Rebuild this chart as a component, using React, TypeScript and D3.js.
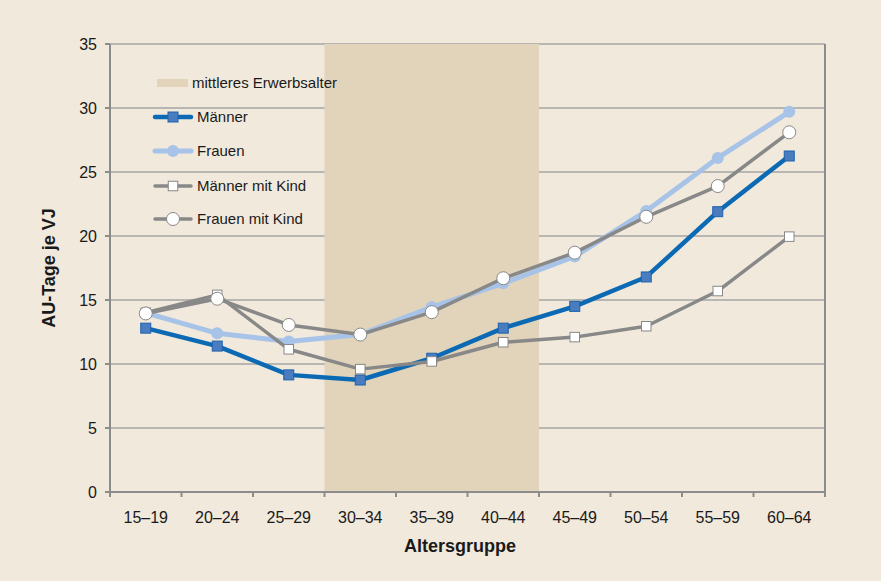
import React from "react";
import * as d3 from "d3";

const categories = ["15–19", "20–24", "25–29", "30–34", "35–39", "40–44", "45–49", "50–54", "55–59", "60–64"];
const maenner = [12.8, 11.4, 9.15, 8.75, 10.45, 12.8, 14.5, 16.8, 21.9, 26.25];
const frauen = [14.0, 12.4, 11.75, 12.3, 14.45, 16.3, 18.4, 21.95, 26.1, 29.7];
const maennerKind = [14.0, 15.4, 11.15, 9.6, 10.2, 11.7, 12.1, 12.95, 15.7, 19.95];
const frauenKind = [13.95, 15.1, 13.05, 12.3, 14.05, 16.7, 18.7, 21.5, 23.9, 28.1];
const yTicks = [0, 5, 10, 15, 20, 25, 30, 35];
const shadedStart = "30–34";
const shadedEnd = "40–44";

const W = 881;
const H = 581;
const M = { left: 110, right: 825, top: 44, bottom: 492 };
const FONT = "'Liberation Sans', Arial, sans-serif";
const BG = "#F1E9DC";
const BAND = "#E2D4BA";
const GRID = "#A4A4A4";
const AXIS = "#8C8C8C";
const BLUE = "#0B6AB3";
const BLUE_FILL = "#4A7DBF";
const LIGHT = "#A7C3E7";
const GRAY = "#888888";

type Series = { name: string; values: number[]; color: string; width: number; marker: "sq" | "dot" | "wsq" | "wcirc" };

const series: Series[] = [
  { name: "Männer", values: maenner, color: BLUE, width: 4.5, marker: "sq" },
  { name: "Frauen", values: frauen, color: LIGHT, width: 5, marker: "dot" },
  { name: "Männer mit Kind", values: maennerKind, color: GRAY, width: 3.5, marker: "wsq" },
  { name: "Frauen mit Kind", values: frauenKind, color: GRAY, width: 3.5, marker: "wcirc" },
];

function Marker({ kind, x, y }: { kind: Series["marker"]; x: number; y: number }) {
  if (kind === "sq") return <rect x={x - 5} y={y - 5} width={10} height={10} fill={BLUE_FILL} stroke="#1E62AC" strokeWidth={1} />;
  if (kind === "dot") return <circle cx={x} cy={y} r={6} fill={LIGHT} />;
  if (kind === "wsq") return <rect x={x - 4.75} y={y - 4.75} width={9.5} height={9.5} fill="#FFFFFF" stroke={GRAY} strokeWidth={1} />;
  return <circle cx={x} cy={y} r={6.5} fill="#FFFFFF" stroke={GRAY} strokeWidth={1} />;
}

export default function App() {
  const x = d3.scaleBand<string>().domain(categories).range([M.left, M.right]);
  const y = d3.scaleLinear().domain([0, 35]).range([M.bottom, M.top]);
  const cx = (c: string) => (x(c) as number) + x.bandwidth() / 2;
  const line = d3
    .line<number>()
    .x((_, i) => cx(categories[i]))
    .y((v) => y(v));

  const bandX0 = x(shadedStart) as number;
  const bandX1 = (x(shadedEnd) as number) + x.bandwidth();

  const legendX = 155;
  const legendRows = [117, 151, 186, 219];

  return (
    <svg width={W} height={H} style={{ position: "absolute", left: 0, top: 0, fontFamily: FONT }}>
      <rect x={0} y={0} width={W} height={H} fill={BG} />
      {yTicks.map((t) => (
        <line key={t} x1={M.left} x2={M.right} y1={y(t)} y2={y(t)} stroke={GRID} strokeWidth={1.5} />
      ))}
      <rect x={bandX0} y={M.top} width={bandX1 - bandX0} height={M.bottom - M.top} fill={BAND} />
      <line x1={M.left} x2={M.left} y1={M.top} y2={M.bottom} stroke={AXIS} strokeWidth={2} />
      <line x1={M.right} x2={M.right} y1={M.top} y2={M.bottom} stroke={AXIS} strokeWidth={2} />
      <line x1={M.left} x2={M.right} y1={M.bottom} y2={M.bottom} stroke={AXIS} strokeWidth={2} />
      {yTicks.map((t) => (
        <g key={"yt" + t}>
          <line x1={M.left - 5} x2={M.left} y1={y(t)} y2={y(t)} stroke={AXIS} strokeWidth={2} />
          <text x={97} y={y(t)} dy="0.35em" textAnchor="end" fontSize={16} fill="#1a1a1a">
            {t}
          </text>
        </g>
      ))}
      {categories.map((c, i) => (
        <g key={c}>
          <line x1={x(c) as number} x2={x(c) as number} y1={M.bottom} y2={M.bottom + 5} stroke={AXIS} strokeWidth={2} />
          {i === categories.length - 1 && (
            <line x1={M.right} x2={M.right} y1={M.bottom} y2={M.bottom + 5} stroke={AXIS} strokeWidth={2} />
          )}
          <text x={cx(c)} y={523} textAnchor="middle" fontSize={16} fill="#1a1a1a">
            {c}
          </text>
        </g>
      ))}
      <text x={460} y={552} textAnchor="middle" fontSize={18} fontWeight="bold" fill="#1a1a1a">
        Altersgruppe
      </text>
      <text
        transform={`translate(55, ${268}) rotate(-90)`}
        textAnchor="middle"
        fontSize={18}
        fontWeight="bold"
        fill="#1a1a1a"
      >
        AU-Tage je VJ
      </text>
      {series.map((s) => (
        <g key={s.name}>
          <path d={line(s.values) as string} fill="none" stroke={s.color} strokeWidth={s.width} strokeLinejoin="round" />
          {s.values.map((v, i) => (
            <Marker key={i} kind={s.marker} x={cx(categories[i])} y={y(v)} />
          ))}
        </g>
      ))}
      <rect x={157} y={79} width={31} height={8} fill={BAND} />
      <text x={192} y={83} dy="0.35em" fontSize={15} fill="#1a1a1a">
        mittleres Erwerbsalter
      </text>
      {series.map((s, i) => (
        <g key={"lg" + s.name}>
          <line x1={legendX} x2={legendX + 36} y1={legendRows[i]} y2={legendRows[i]} stroke={s.color} strokeWidth={s.width} strokeLinecap="round" />
          <Marker kind={s.marker} x={legendX + 18} y={legendRows[i]} />
          <text x={197} y={legendRows[i]} dy="0.35em" fontSize={15} fill="#1a1a1a">
            {s.name}
          </text>
        </g>
      ))}
    </svg>
  );
}
